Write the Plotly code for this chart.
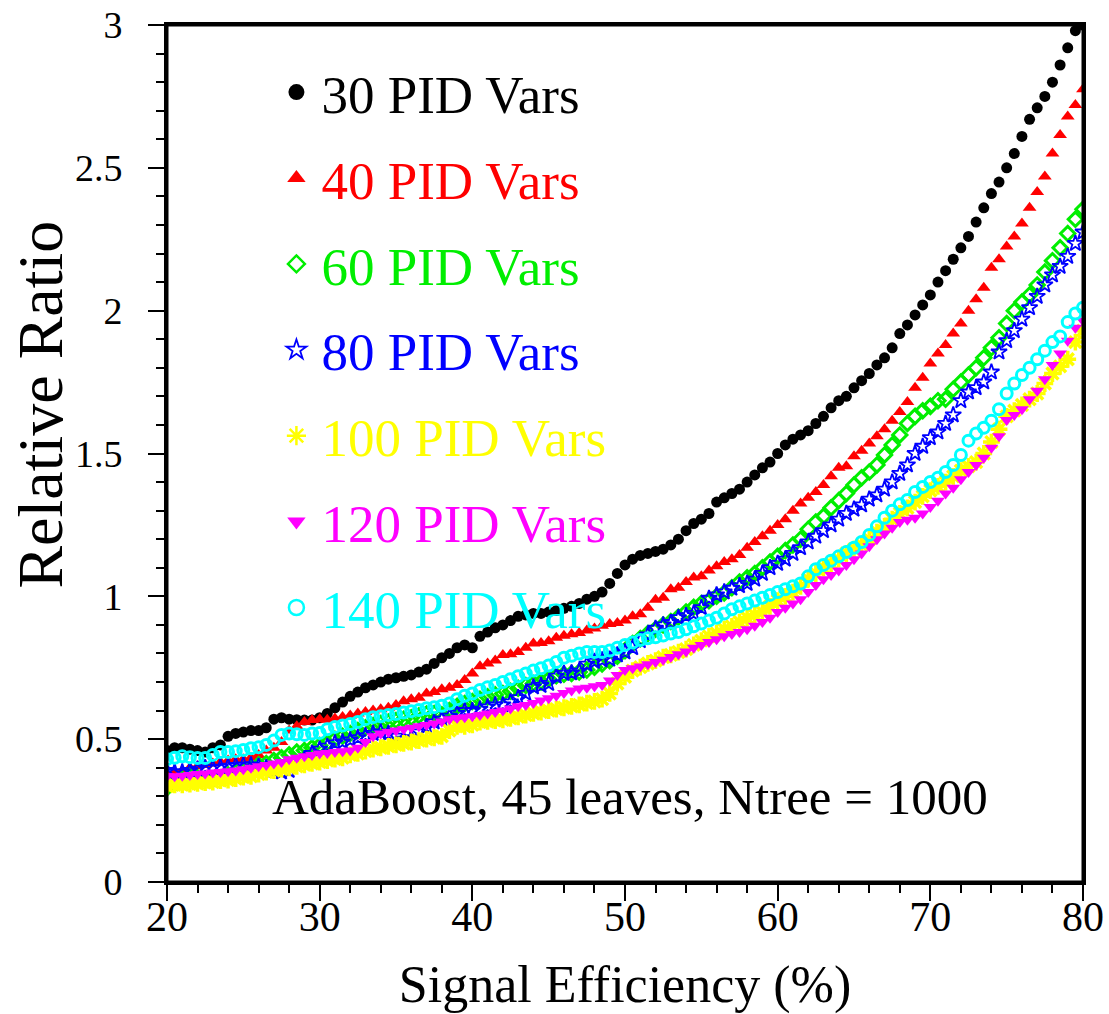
import plotly.graph_objects as go

# Signal efficiency grid (%), 20 .. 80 in 0.5 steps
efficiency = [20 + 0.5 * i for i in range(121)]

vars30 = [0.46,0.47,0.47,0.465,0.46,0.455,0.47,0.48,0.51,0.52,
          0.525,0.53,0.53,0.54,0.57,0.575,0.57,0.568,0.567,0.567,
          0.575,0.59,0.61,0.63,0.65,0.665,0.68,0.69,0.70,0.71,
          0.715,0.72,0.725,0.735,0.745,0.765,0.785,0.80,0.82,0.83,
          0.82,0.86,0.875,0.89,0.90,0.915,0.93,0.935,0.94,0.94,
          0.945,0.95,0.958,0.965,0.975,0.99,1.0,1.015,1.045,1.08,
          1.11,1.13,1.143,1.15,1.157,1.165,1.18,1.20,1.23,1.255,
          1.27,1.29,1.33,1.345,1.36,1.375,1.40,1.425,1.45,1.47,
          1.50,1.53,1.55,1.565,1.58,1.605,1.63,1.66,1.685,1.70,
          1.73,1.755,1.78,1.81,1.835,1.87,1.92,1.95,1.985,2.02,
          2.055,2.10,2.14,2.18,2.22,2.26,2.31,2.36,2.41,2.45,
          2.50,2.55,2.61,2.67,2.71,2.75,2.80,2.86,2.92,2.98,
          3.0]

vars40 = [0.38,0.385,0.39,0.40,0.405,0.41,0.415,0.42,0.425,0.43,
          0.43,0.435,0.445,0.46,0.47,0.49,0.53,0.545,0.56,0.567,
          0.57,0.568,0.572,0.578,0.583,0.59,0.595,0.60,0.605,0.61,
          0.62,0.633,0.64,0.645,0.66,0.665,0.675,0.68,0.69,0.707,
          0.73,0.755,0.765,0.775,0.795,0.797,0.805,0.82,0.835,0.837,
          0.843,0.855,0.862,0.867,0.872,0.88,0.887,0.897,0.903,0.907,
          0.915,0.93,0.937,0.96,0.988,0.995,1.025,1.03,1.05,1.066,
          1.07,1.09,1.105,1.12,1.13,1.145,1.17,1.19,1.21,1.23,
          1.25,1.27,1.30,1.325,1.345,1.365,1.39,1.42,1.45,1.455,
          1.49,1.51,1.535,1.56,1.585,1.615,1.645,1.68,1.73,1.765,
          1.815,1.85,1.88,1.92,1.955,2.00,2.04,2.08,2.15,2.18,
          2.225,2.26,2.305,2.36,2.415,2.47,2.55,2.615,2.68,2.72,
          2.775]

vars60 = [0.33,0.345,0.36,0.37,0.365,0.36,0.36,0.365,0.375,0.385,
          0.39,0.40,0.41,0.415,0.425,0.435,0.445,0.455,0.46,0.47,
          0.478,0.486,0.50,0.51,0.52,0.53,0.54,0.548,0.555,0.56,
          0.565,0.57,0.575,0.582,0.588,0.59,0.585,0.60,0.615,0.625,
          0.632,0.64,0.648,0.655,0.66,0.668,0.678,0.688,0.695,0.70,
          0.71,0.722,0.727,0.73,0.735,0.742,0.752,0.763,0.775,0.79,
          0.81,0.835,0.852,0.87,0.885,0.90,0.912,0.928,0.945,0.962,
          0.975,0.985,1.0,1.012,1.03,1.05,1.065,1.08,1.10,1.12,
          1.14,1.16,1.18,1.20,1.235,1.26,1.28,1.31,1.335,1.36,
          1.39,1.415,1.435,1.46,1.495,1.53,1.565,1.605,1.63,1.65,
          1.665,1.685,1.69,1.725,1.75,1.775,1.80,1.835,1.87,1.905,
          1.955,2.00,2.03,2.055,2.09,2.135,2.175,2.22,2.27,2.32,
          2.355]

vars80 = [0.39,0.385,0.385,0.39,0.395,0.40,0.40,0.402,0.405,0.408,
          0.41,0.41,0.405,0.40,0.39,0.385,0.39,0.41,0.43,0.45,
          0.465,0.475,0.487,0.49,0.497,0.505,0.512,0.52,0.525,0.52,
          0.51,0.50,0.505,0.525,0.545,0.56,0.57,0.58,0.59,0.60,
          0.60,0.605,0.613,0.62,0.62,0.63,0.645,0.66,0.683,0.688,
          0.695,0.72,0.73,0.732,0.738,0.762,0.772,0.777,0.78,0.795,
          0.805,0.82,0.845,0.865,0.888,0.90,0.908,0.925,0.932,0.94,
          0.96,0.993,1.005,1.015,1.028,1.037,1.045,1.06,1.08,1.10,
          1.115,1.13,1.15,1.17,1.19,1.21,1.23,1.25,1.27,1.29,
          1.305,1.32,1.34,1.355,1.375,1.40,1.43,1.46,1.50,1.525,
          1.555,1.575,1.605,1.635,1.685,1.715,1.73,1.75,1.785,1.855,
          1.895,1.93,1.97,2.01,2.05,2.09,2.125,2.155,2.19,2.235,
          2.275]

vars100 = [0.335,0.34,0.34,0.343,0.345,0.348,0.35,0.355,0.357,0.362,
           0.367,0.37,0.378,0.385,0.39,0.395,0.40,0.405,0.41,0.415,
           0.42,0.425,0.43,0.435,0.445,0.45,0.458,0.465,0.47,0.475,
           0.48,0.485,0.49,0.495,0.50,0.505,0.51,0.53,0.545,0.545,
           0.55,0.56,0.562,0.565,0.568,0.573,0.578,0.584,0.59,0.595,
           0.60,0.605,0.61,0.615,0.62,0.626,0.632,0.64,0.66,0.695,
           0.718,0.74,0.752,0.765,0.775,0.787,0.795,0.805,0.815,0.83,
           0.845,0.86,0.87,0.885,0.895,0.91,0.925,0.935,0.945,0.965,
           0.985,1.0,1.015,1.035,1.06,1.08,1.10,1.115,1.13,1.15,
           1.165,1.18,1.20,1.225,1.245,1.27,1.29,1.31,1.33,1.35,
           1.37,1.385,1.40,1.42,1.44,1.455,1.47,1.50,1.54,1.585,
           1.63,1.65,1.67,1.69,1.71,1.745,1.78,1.805,1.83,1.89,
           1.93]

vars120 = [0.37,0.37,0.372,0.375,0.378,0.38,0.383,0.385,0.388,0.39,
           0.395,0.40,0.405,0.41,0.415,0.42,0.43,0.435,0.44,0.445,
           0.45,0.452,0.455,0.458,0.46,0.47,0.49,0.51,0.52,0.525,
           0.53,0.535,0.54,0.545,0.55,0.555,0.562,0.57,0.574,0.577,
           0.58,0.585,0.59,0.595,0.60,0.607,0.615,0.62,0.627,0.635,
           0.643,0.652,0.662,0.67,0.677,0.68,0.685,0.69,0.705,0.725,
           0.742,0.748,0.754,0.762,0.77,0.778,0.788,0.797,0.807,0.82,
           0.83,0.84,0.85,0.86,0.868,0.875,0.885,0.897,0.91,0.925,
           0.945,0.96,0.975,0.99,1.015,1.04,1.06,1.075,1.09,1.11,
           1.13,1.15,1.175,1.20,1.22,1.24,1.26,1.268,1.275,1.29,
           1.313,1.335,1.36,1.38,1.41,1.435,1.46,1.485,1.52,1.56,
           1.617,1.635,1.655,1.69,1.72,1.76,1.81,1.85,1.895,1.94,
           1.965]

vars140 = [0.43,0.435,0.44,0.437,0.434,0.434,0.445,0.455,0.455,0.458,
           0.462,0.468,0.472,0.48,0.495,0.515,0.52,0.517,0.515,0.52,
           0.522,0.535,0.543,0.548,0.553,0.56,0.57,0.577,0.58,0.585,
           0.588,0.593,0.598,0.602,0.608,0.612,0.617,0.625,0.64,0.652,
           0.66,0.672,0.682,0.69,0.70,0.71,0.72,0.73,0.74,0.748,
           0.758,0.77,0.785,0.792,0.80,0.805,0.805,0.805,0.81,0.82,
           0.83,0.838,0.847,0.853,0.857,0.863,0.87,0.875,0.885,0.895,
           0.905,0.915,0.925,0.94,0.955,0.965,0.975,0.985,0.995,1.005,
           1.015,1.025,1.035,1.045,1.07,1.095,1.11,1.125,1.14,1.155,
           1.17,1.19,1.215,1.245,1.275,1.30,1.322,1.337,1.365,1.383,
           1.40,1.415,1.435,1.46,1.495,1.545,1.57,1.59,1.615,1.655,
           1.71,1.745,1.775,1.80,1.83,1.86,1.89,1.91,1.96,1.99,
           2.01]

labels = ["30 PID Vars", "40 PID Vars", "60 PID Vars", "80 PID Vars",
          "100 PID Vars", "120 PID Vars", "140 PID Vars"]
series = [vars30, vars40, vars60, vars80, vars100, vars120, vars140]
colors = ["#000000", "#ff0000", "#00ee00", "#0000ff", "#ffff00", "#ff00ff", "#00ffff"]
symbols = ["circle", "triangle-up", "diamond-open", "star-open",
           "asterisk-open", "triangle-down", "circle-open"]
sizes = [11, 12, 11, 12, 14, 12, 11]
lwidths = [0, 0, 3, 1.8, 3.5, 0, 3]
leg_sizes = [17, 17, 13, 15, 16, 17, 15]
leg_lw = [0, 0, 2.5, 1.8, 2.5, 0, 2.5]

FONT = "Liberation Serif, Times New Roman, serif"

fig = go.Figure()
for lab, ys, c, s, sz, lw in zip(labels, series, colors, symbols, sizes, lwidths):
    fig.add_trace(go.Scatter(
        x=efficiency, y=ys, mode="markers", showlegend=False,
        marker=dict(symbol=s, size=sz, color=c, line=dict(width=lw, color=c)),
    ))

# legend-only entries (larger symbols, coloured text)
for i, (lab, c, s, lsz, lw) in enumerate(zip(labels, colors, symbols, leg_sizes, leg_lw)):
    fig.add_trace(go.Scatter(
        x=[None], y=[None], mode="markers", legendgroup=f"g{i}",
        name=f"<span style='color:{c}'>{lab}</span>",
        marker=dict(symbol=s, size=lsz, color=c, line=dict(width=lw, color=c)),
    ))

fig.update_layout(
    width=1109, height=1014,
    margin=dict(l=167, r=26, t=25, b=132, autoexpand=False),
    paper_bgcolor="white", plot_bgcolor="white",
    font=dict(family=FONT, color="black", size=42),
    legend=dict(
        x=0.114, y=0.9695, xanchor="left", yanchor="top",
        bgcolor="rgba(0,0,0,0)", font=dict(family=FONT, size=53),
        tracegroupgap=14, itemwidth=40,
    ),
    annotations=[
        dict(text="AdaBoost, 45 leaves, Ntree = 1000", xref="paper", yref="paper",
             x=0.505, y=0.064, showarrow=False,
             font=dict(family=FONT, size=51, color="black")),
        dict(text="Relative Ratio", xref="paper", yref="paper",
             x=-0.1376, y=0.557, textangle=-90, showarrow=False,
             xanchor="center", yanchor="middle",
             font=dict(family=FONT, size=64, color="black")),
    ],
    # frame around the plotting area
    shapes=[dict(type="rect", xref="paper", yref="paper", x0=0, y0=0, x1=1, y1=1,
                 line=dict(color="black", width=3), fillcolor="rgba(0,0,0,0)", layer="above")],
)

fig.update_xaxes(
    range=[20, 80], tickvals=[20, 30, 40, 50, 60, 70, 80],
    ticks="outside", ticklen=16, tickwidth=1.5, tickcolor="black",
    minor=dict(dtick=2, ticks="outside", ticklen=8, tickwidth=1.5, tickcolor="black", showgrid=False),
    showline=True, linewidth=3, linecolor="black", mirror=True,
    showgrid=False, zeroline=False, automargin=False,
    tickfont=dict(family=FONT, size=42), ticklabelstandoff=-20,
    title=dict(text="Signal Efficiency (%)", font=dict(family=FONT, size=52), standoff=27),
)
fig.update_yaxes(
    range=[0, 3], tickvals=[0, 0.5, 1, 1.5, 2, 2.5, 3],
    ticktext=["0", "0.5", "1", "1.5", "2", "2.5", "3"],
    ticks="outside", ticklen=16, tickwidth=1.5, tickcolor="black",
    minor=dict(dtick=0.1, ticks="outside", ticklen=8, tickwidth=1.5, tickcolor="black", showgrid=False),
    showline=True, linewidth=3, linecolor="black", mirror=True,
    showgrid=False, zeroline=False, automargin=False,
    tickfont=dict(family=FONT, size=38), ticklabelstandoff=18,
)

# remove the browser's default 8px body margin so the figure fills the window exactly
fig.write_html(
    "out.html",
    config={"displayModeBar": False},
    post_script="document.body.style.margin='0';document.body.style.overflow='hidden';",
)
